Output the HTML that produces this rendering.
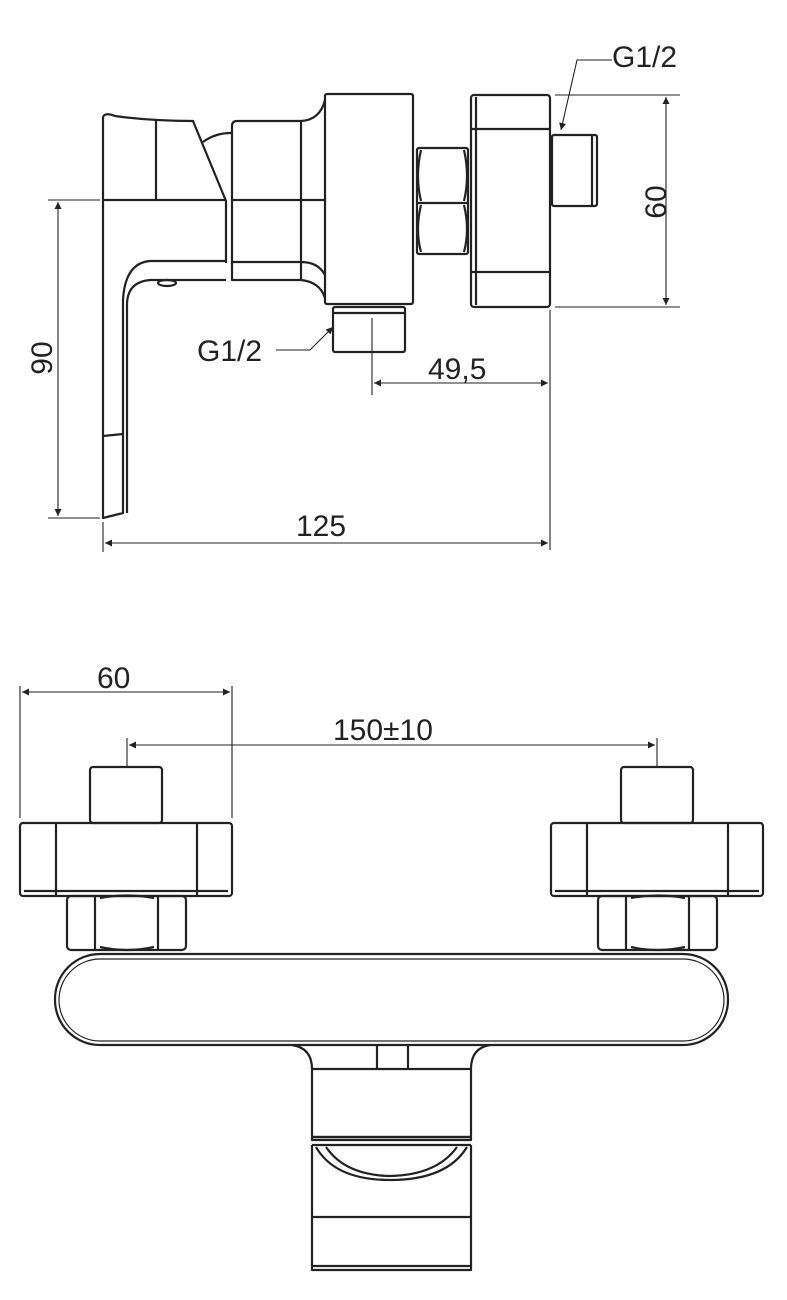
<!DOCTYPE html>
<html><head><meta charset="utf-8"><style>
html,body{margin:0;padding:0;background:#fff;}
svg{display:block;}
text{font-family:"Liberation Sans",sans-serif;font-size:30px;fill:#222;}
</style></head><body>
<svg width="787" height="1300" viewBox="0 0 787 1300" xmlns="http://www.w3.org/2000/svg">
<defs>
<marker id="a" viewBox="0 0 10 10" refX="10" refY="5" markerWidth="18" markerHeight="7" orient="auto-start-reverse" markerUnits="userSpaceOnUse"><path d="M0,0L10,5L0,10z" fill="#222"/></marker>
</defs>
<g fill="none" stroke="#222" stroke-width="2.2" stroke-linejoin="round">
<!-- lever -->
<path d="M103,117 Q105,112 115,116 Q150,121 193,121 L226,201 L226,263"/>
<path d="M156,121 L156,200 M103,200 L226,200"/>
<path d="M103,117 L103,518 L123,513 L123,300 Q125,263 150,261 L226,261 M226,280 L150,280 Q127,282 127,305 L127,513"/>
<path d="M103,436 L123,434"/>
<ellipse cx="167" cy="283" rx="9" ry="3"/>
<path d="M203,142 Q215,133 231,133"/>
<!-- body segment -->
<path d="M232,126 Q232,121 237,121 L301,121 Q320,120 325,100 M232,126 L232,280 L301,280 Q320,282 325,298"/>
<path d="M301,121 L301,280 M232,200 L325,200 M232,262 L301,262 Q318,262 325,275"/>
<!-- big block -->
<rect x="325" y="94" width="88" height="210" rx="2"/>
<rect x="333" y="307" width="72" height="45" rx="2"/>
<path d="M333,313 L405,313"/>
<!-- hex nut -->
<rect x="417" y="148" width="51" height="106" rx="2"/>
<path d="M417,203 L468,203 M421,150 Q415,176 421,201 M464,150 Q470,176 464,201 M421,205 Q415,230 421,252 M464,205 Q470,230 464,252"/>
<!-- right block -->
<rect x="471" y="95" width="79" height="212" rx="3"/>
<path d="M471,129 L550,129 M471,272 L550,272 M476,97 L476,305"/>
<rect x="552" y="135" width="45" height="71" rx="2"/>
<path d="M592,136 L592,205"/>
</g>
<!-- top dimensions -->
<g fill="none" stroke="#222" stroke-width="1.1">
<path d="M555,95 L680,95 M555,307 L680,307"/>
<path d="M666,97 L666,305" marker-start="url(#a)" marker-end="url(#a)"/>
<path d="M550,310 L550,550 M372,318 L372,395"/>
<path d="M374,383 L548,383" marker-start="url(#a)" marker-end="url(#a)"/>
<path d="M48,200 L100,200 M48,518 L100,518"/>
<path d="M58,202 L58,516" marker-start="url(#a)" marker-end="url(#a)"/>
<path d="M103,522 L103,552"/>
<path d="M105,543 L548,543" marker-start="url(#a)" marker-end="url(#a)"/>
<path d="M612,60 L577,60 L561,130" marker-end="url(#a)"/>
<path d="M276,350 L310,350 L333,327" marker-end="url(#a)"/>
</g>
<text x="612" y="67">G1/2</text>
<text x="197" y="361">G1/2</text>
<text x="428" y="379">49,5</text>
<text x="296" y="536">125</text>
<text transform="translate(666,202) rotate(-90)" text-anchor="middle">60</text>
<text transform="translate(52,358) rotate(-90)" text-anchor="middle">90</text>
<!-- bottom view -->
<g fill="none" stroke="#222" stroke-width="2.2" stroke-linejoin="round">
<rect x="90" y="767" width="72" height="56" rx="3"/>
<rect x="20" y="823" width="212" height="73" rx="3"/>
<path d="M56,823 L56,896 M197,823 L197,896 M24,891 L228,891"/>
<rect x="67" y="896" width="119" height="54" rx="4"/>
<path d="M95,896 L95,950 M158,896 L158,950 M100,898 Q127,893 154,898 M100,947 Q127,953 154,947"/>
<rect x="621" y="767" width="72" height="56" rx="3"/>
<rect x="551" y="823" width="212" height="73" rx="3"/>
<path d="M587,823 L587,896 M728,823 L728,896 M555,891 L759,891"/>
<rect x="598" y="896" width="119" height="54" rx="4"/>
<path d="M626,896 L626,950 M689,896 L689,950 M631,898 Q658,893 685,898 M631,947 Q658,953 685,947"/>
<rect x="55" y="954" width="673" height="91" rx="45"/>
<rect x="59" y="959" width="665" height="82" rx="41" stroke-width="1.2"/>
<path d="M292,1045 Q312,1048 312,1069 M490,1045 Q471,1048 471,1069 M377,1045 L377,1069 M408,1045 L408,1069"/>
<rect x="312" y="1069" width="159" height="68" rx="1"/>
<path d="M312,1137 L471,1137 L471,1140 L312,1140z"/>
<path d="M312,1145 L471,1145 M312,1145 L312,1270 L471,1270 L471,1145 M316,1147 Q335,1180 390,1180 Q447,1180 467,1147 M326,1147 Q345,1175 390,1176 Q437,1175 457,1147"/>
<path d="M312,1217 L471,1217 M312,1266 L471,1266"/>
</g>
<g fill="none" stroke="#222" stroke-width="1.1">
<path d="M20,686 L20,818 M232,686 L232,818"/>
<path d="M22,692 L230,692" marker-start="url(#a)" marker-end="url(#a)"/>
<path d="M127,738 L127,767 M657,738 L657,767"/>
<path d="M129,745 L655,745" marker-start="url(#a)" marker-end="url(#a)"/>
</g>
<text x="97" y="688">60</text>
<text x="333" y="740">150±10</text>
</svg>
</body></html>
